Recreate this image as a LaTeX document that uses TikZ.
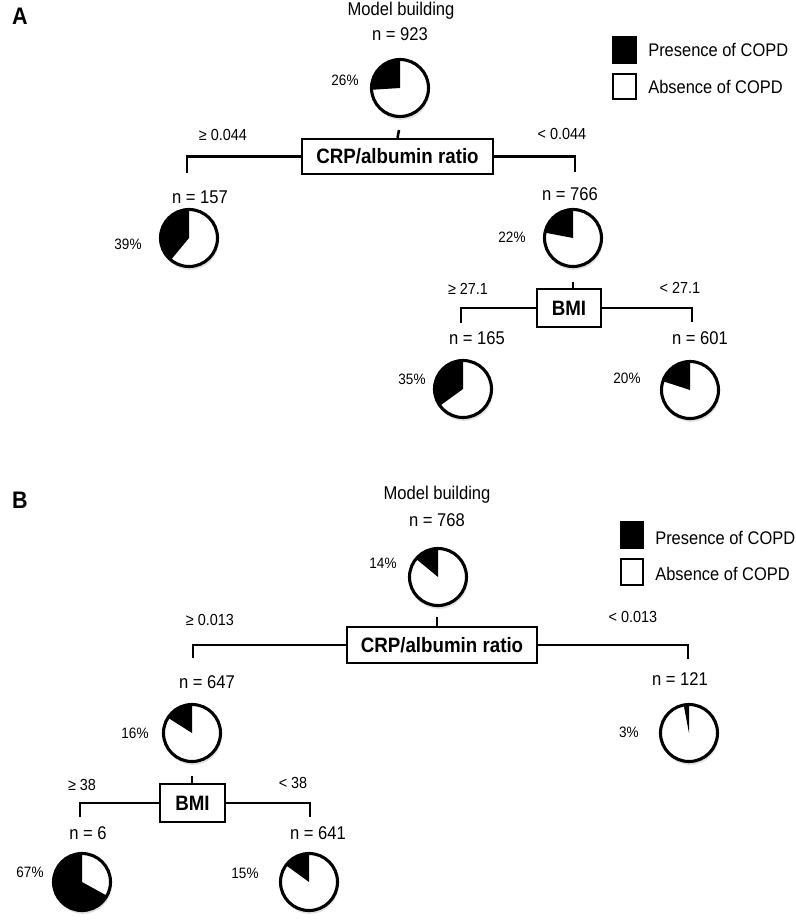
\documentclass[tikz,border=0pt]{standalone}
\usepackage{fontspec}
\setmainfont{Liberation Sans}[FakeStretch=0.9]
\usetikzlibrary{positioning}

% black wedge of a pie, starts at 12 o'clock and turns left
\newcommand{\copdwedge}[2]{%
  \fill (#1) -- ++(90:0.71cm) arc[start angle=90, delta angle={3.6*#2}, radius=0.71cm] -- cycle;}

\tikzset{
  ntext/.style={font=\fontsize{13.1}{15}\selectfont},
  cuttext/.style={font=\fontsize{11.4}{13}\selectfont},
  pcttext/.style={font=\fontsize{10.7}{12}\selectfont},
  panel/.style={font=\fontsize{17}{19}\selectfont\bfseries},
  splitbox/.style={draw, line width=1.5pt, inner sep=0pt, font=\fontsize{14.8}{17}\selectfont\bfseries},
  piering/.style={circle, draw, line width=2.2pt, minimum size=1.425cm, inner sep=0pt},
  shade/.style={fill=black!12},
  branch/.style={line width=1.8pt},
  keybox/.style={draw, line width=1.4pt, minimum width=0.57cm, minimum height=0.64cm, inner sep=0pt},
  keytext/.style={anchor=west, inner sep=0pt, font=\fontsize{13}{15}\selectfont},
}

\begin{document}
\begin{tikzpicture}[x=0.025cm, y=-0.025cm]
  \useasboundingbox (0,0) rectangle (796,922);

  % ---------------- panel A ----------------
  \node[panel] (labA) at (20,16) {A};
  \node[ntext] (titA) at (401,11) {Model building};
  \node[ntext] (nA0) at (400,34) {n = 923};

  % define the pie centres
  \coordinate (cA0) at (400,88);
  \coordinate (cA1) at (189,238);
  \coordinate (cA2) at (573,238);
  \coordinate (cA3) at (463,389);
  \coordinate (cA4) at (690,390);

  % draw the pies
  \foreach \c/\p in {cA0/26, cA1/39, cA2/22, cA3/35, cA4/20} {
    \fill[shade] (\c) ++(1,3) circle[radius=0.72cm];
    \fill[white] (\c) circle[radius=0.72cm];
    \copdwedge{\c}{\p}
  }
  \node[piering] (pieA0) at (cA0) {};
  \node[piering] (pieA1) at (cA1) {};
  \node[piering] (pieA2) at (cA2) {};
  \node[piering] (pieA3) at (cA3) {};
  \node[piering] (pieA4) at (cA4) {};

  \node[pcttext] (pA0) at (345,80) {26\%};
  \node[pcttext] (pA1) at (128,244) {39\%};
  \node[pcttext] (pA2) at (512,237) {22\%};
  \node[pcttext] (pA3) at (412,379) {35\%};
  \node[pcttext] (pA4) at (627,378) {20\%};

  % first split
  \node[splitbox, minimum width=4.78cm, minimum height=0.88cm] (crpA) at (397.5,156.5) {CRP/albumin ratio};
  \coordinate (tkA0) at (399,130);
  \coordinate (leA1) at (187,173);
  \coordinate (riA2) at (575,172);
  \draw[branch] (tkA0) -- (crpA.north);
  \draw[branch] (crpA.west) -| (leA1);
  \draw[branch] (crpA.east) -| (riA2);
  \node[cuttext] (gA1) at (223,135) {≥ 0.044};
  \node[cuttext] (lA1) at (562,134) {< 0.044};
  \node[ntext] (nA1) at (200,197) {n = 157};
  \node[ntext] (nA2) at (570,194) {n = 766};

  % second split
  \node[splitbox, minimum width=1.6cm, minimum height=0.95cm] (bmiA) at (569,308) {BMI};
  \coordinate (tkA2) at (573,282);
  \coordinate (leA3) at (461,323);
  \coordinate (riA4) at (692,322);
  \draw[branch] (tkA2) -- (tkA2 |- bmiA.north);
  \draw[branch] (bmiA.west) -| (leA3);
  \draw[branch] (bmiA.east) -| (riA4);
  \node[cuttext] (gA2) at (468,289) {≥ 27.1};
  \node[cuttext] (lA2) at (680,288) {< 27.1};
  \node[ntext] (nA3) at (477,338) {n = 165};
  \node[ntext] (nA4) at (700,338) {n = 601};

  % legend
  \node[keybox, fill=black] (kA1) at (624.5,50) {};
  \node[keybox] (kA2) at (624.5,86.5) {};
  \node[keytext] (tA1) at (648,50) {Presence of COPD};
  \node[keytext] (tA2) at (648,87) {Absence of COPD};

  % ---------------- panel B ----------------
  \node[panel] (labB) at (20,500) {B};
  \node[ntext] (titB) at (437,495) {Model building};
  \node[ntext] (nB0) at (437,520) {n = 768};

  % define the pie centres
  \coordinate (cB0) at (438,577);
  \coordinate (cB1) at (192,733);
  \coordinate (cB2) at (689,733);
  \coordinate (cB3) at (82,882);
  \coordinate (cB4) at (309,882);

  % draw the pies
  \foreach \c/\p in {cB0/14, cB1/16, cB2/3, cB3/67, cB4/15} {
    \fill[shade] (\c) ++(1,3) circle[radius=0.72cm];
    \fill[white] (\c) circle[radius=0.72cm];
    \copdwedge{\c}{\p}
  }
  \node[piering] (pieB0) at (cB0) {};
  \node[piering] (pieB1) at (cB1) {};
  \node[piering] (pieB2) at (cB2) {};
  \node[piering] (pieB3) at (cB3) {};
  \node[piering] (pieB4) at (cB4) {};

  \node[pcttext] (pB0) at (383,563) {14\%};
  \node[pcttext] (pB1) at (135,733) {16\%};
  \node[pcttext] (pB2) at (629,732) {3\%};
  \node[pcttext] (pB3) at (30,872) {67\%};
  \node[pcttext] (pB4) at (245,873) {15\%};

  % first split
  \node[splitbox, minimum width=4.75cm, minimum height=0.9cm] (crpB) at (442,645) {CRP/albumin ratio};
  \coordinate (tkB0) at (437,617);
  \coordinate (leB1) at (193,658);
  \coordinate (riB2) at (688,659);
  \draw[branch] (tkB0) -- (tkB0 |- crpB.north);
  \draw[branch] (crpB.west) -| (leB1);
  \draw[branch] (crpB.east) -| (riB2);
  \node[cuttext] (gB1) at (210,620) {≥ 0.013};
  \node[cuttext] (lB1) at (633,617) {< 0.013};
  \node[ntext] (nB1) at (207,682) {n = 647};
  \node[ntext] (nB2) at (680,679) {n = 121};

  % second split
  \node[splitbox, minimum width=1.62cm, minimum height=0.95cm] (bmiB) at (192.5,803) {BMI};
  \coordinate (tkB1) at (192,776);
  \coordinate (leB3) at (80,817);
  \coordinate (riB4) at (310,817);
  \draw[branch] (tkB1) -- (tkB1 |- bmiB.north);
  \draw[branch] (bmiB.west) -| (leB3);
  \draw[branch] (bmiB.east) -| (riB4);
  \node[cuttext] (gB2) at (82,785) {≥ 38};
  \node[cuttext] (lB2) at (293,783) {< 38};
  \node[ntext] (nB3) at (88,833) {n = 6};
  \node[ntext] (nB4) at (318,833) {n = 641};

  % legend
  \node[keybox, fill=black] (kB1) at (632,535) {};
  \node[keybox] (kB2) at (632,572) {};
  \node[keytext] (tB1) at (655,538) {Presence of COPD};
  \node[keytext] (tB2) at (655,574) {Absence of COPD};
\end{tikzpicture}
\end{document}
